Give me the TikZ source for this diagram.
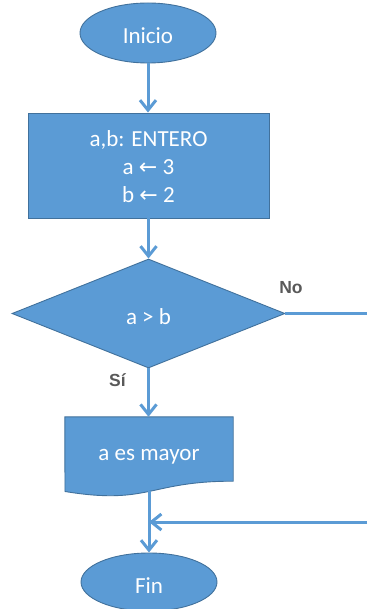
\documentclass[tikz,border=0pt]{standalone}
\usepackage{fontspec}
\setmainfont{Carlito}
\newfontfamily\labfont{Liberation Sans}
\newfontfamily\arrfont{DejaVu Sans}
\usetikzlibrary{shapes.geometric,arrows.meta}
\definecolor{boxfill}{HTML}{5B9BD5}
\definecolor{boxline}{HTML}{41719C}
\definecolor{labgray}{HTML}{595959}
\begin{document}
\begin{tikzpicture}[x=1pt,y=-1pt,
  shp/.style={fill=boxfill,draw=boxline,line width=0.9pt,text=white,inner sep=0pt,font=\fontsize{23}{28}\selectfont},
  oneline/.style={text height=22pt,text depth=0pt},
  ell/.style={shp,ellipse,oneline},
  proc/.style={shp,rectangle,align=center},
  dec/.style={shp,diamond,oneline},
  flow/.style={draw=boxfill,line width=3pt},
  arr/.style={flow,-{Straight Barb[length=10pt,width=16pt]}},
  lab/.style={text=labgray,font=\labfont\bfseries\fontsize{17.5}{20}\selectfont,inner sep=0pt}
]
\useasboundingbox (0,0) rectangle (367,609);

\node[ell,minimum width=136pt,minimum height=60pt] (inicio) at (148,33) {Inicio};
\node[proc,minimum width=241pt,minimum height=105pt,text height=80pt,text depth=5pt] (decl) at (148.5,165.5)
  {a,b: ENTERO\\ a {\arrfont\fontsize{22}{28}\selectfont ←} 3\\ b {\arrfont\fontsize{22}{28}\selectfont ←} 2};
\node[dec,minimum width=273pt,minimum height=109pt] (cond) at (148.5,313.5) {a > b};

% document shape
\node[inner sep=0pt,minimum width=168pt,minimum height=64pt] (doc) at (149,449) {};
\fill[boxfill,draw=boxline,line width=0.9pt]
  (doc.north west) -- (doc.north east) -- (doc.south east)
  .. controls (149,481) and (149,505.3) .. (65,491.5) -- cycle;
\node[text=white,inner sep=0pt,font=\fontsize{23}{28}\selectfont,oneline] (doctext) at (doc.center) {a es mayor};
\coordinate (docb) at (149,491.4);

\node[ell,minimum width=136pt,minimum height=58pt] (fin) at (149,582) {Fin};

\node[lab] (no) at (291,288) {No};
\node[lab] (si) at (117.5,380) {Sí};

\coordinate (noend) at (367,313.5);
\coordinate (ret) at (367,522);

\draw[arr] (inicio.south) -- (inicio.south |- decl.north);
\draw[arr] (decl.south) -- (decl.south |- cond.north);
\draw[flow] (cond.east) -- (noend);
\draw[arr] (cond.south) -- (cond.south |- doc.north);
\draw[arr] (docb) -- (fin.north);
\draw[arr] (ret) -- (ret -| docb);
\end{tikzpicture}
\end{document}
